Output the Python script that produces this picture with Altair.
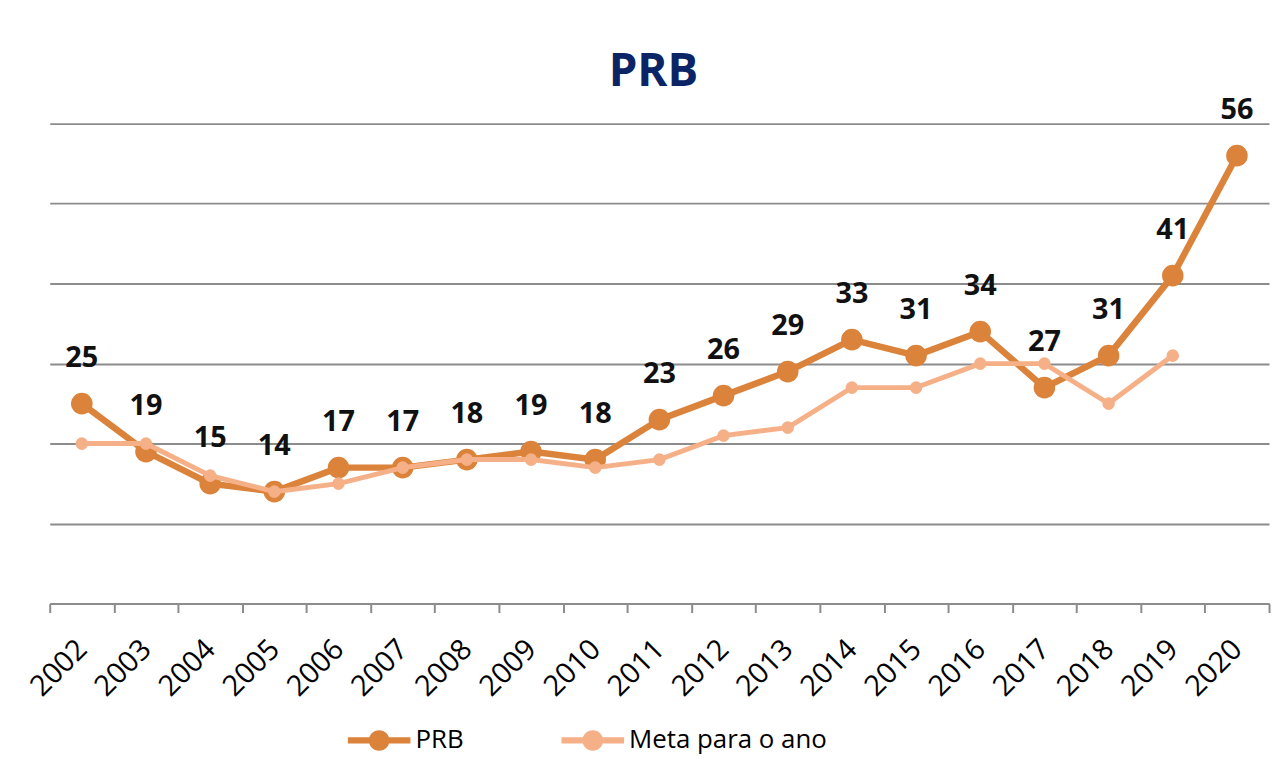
import altair as alt
import pandas as pd

years = [str(y) for y in range(2002, 2021)]
prb = [25, 19, 15, 14, 17, 17, 18, 19, 18, 23, 26, 29, 33, 31, 34, 27, 31, 41, 56]
meta = [20, 20, 16, 14, 15, 17, 18, 18, 17, 18, 21, 22, 27, 27, 30, 30, 25, 31, None]
series = ["PRB", "Meta para o ano"]
colors = ["#DB823B", "#F6B088"]

rows = []
for y, p, m in zip(years, prb, meta):
    rows.append({"year": y, "series": series[0], "value": p})
    if m is not None:
        rows.append({"year": y, "series": series[1], "value": m})
df = pd.DataFrame(rows)

FONT = "Open Sans"
GRID = "#8C8C8C"

legend_path = ("M-1,-0.1L1,-0.1L1,0.1L-1,0.1Z "
               "M-0.33,0A0.33,0.33 0 1,1 0.33,0A0.33,0.33 0 1,1 -0.33,0Z")

x_enc = alt.X("year:O", bandPosition=0.5,
              scale=alt.Scale(type="band", paddingInner=0, paddingOuter=0),
              axis=alt.Axis(title=None, labelAngle=-45, labelAlign="right",
                            labelBaseline="middle", labelPadding=32,
                            labelFont=FONT, labelFontSize=29, labelColor="#000000",
                            ticks=True, tickBand="extent", tickSize=9,
                            tickColor=GRID, tickWidth=2,
                            domainColor=GRID, domainWidth=2, grid=False))
y_enc = alt.Y("value:Q",
              scale=alt.Scale(domain=[0, 60], nice=False, zero=True),
              axis=alt.Axis(title=None, values=[0, 10, 20, 30, 40, 50, 60],
                            labels=False, ticks=False, domain=False,
                            grid=True, gridColor=GRID, gridWidth=2))
color_enc = alt.Color("series:N",
                      scale=alt.Scale(domain=series, range=colors),
                      sort=series,
                      legend=alt.Legend(title=None, orient="none", direction="horizontal",
                                        legendX=300, legendY=589,
                                        symbolType=legend_path, symbolSize=3969,
                                        symbolStrokeWidth=0, symbolOpacity=1,
                                        labelFont=FONT, labelFontSize=26,
                                        labelColor="#000000", labelOffset=5,
                                        labelLimit=500,
                                        columnPadding=98, padding=0))

prb_df = df[df.series == series[0]]
meta_df = df[df.series == series[1]]

prb_line = alt.Chart(prb_df).mark_line(strokeWidth=6.5).encode(x=x_enc, y=y_enc, color=color_enc)
prb_pts = alt.Chart(prb_df).mark_circle(size=470, opacity=1).encode(x=x_enc, y=y_enc, color=color_enc)
meta_line = alt.Chart(meta_df).mark_line(strokeWidth=5).encode(x=x_enc, y=y_enc, color=color_enc)
meta_pts = alt.Chart(meta_df).mark_circle(size=160, opacity=1).encode(x=x_enc, y=y_enc, color=color_enc)
labels = alt.Chart(prb_df).mark_text(font=FONT, fontSize=29, fontWeight="bold",
                                     color="#111111", baseline="alphabetic", dy=-37).encode(
    x=x_enc, y=y_enc, text=alt.Text("value:Q"))

chart = alt.layer(prb_line, prb_pts, meta_line, meta_pts, labels).properties(
    width=1227, height=483,
    background="white",
    title=alt.Title("PRB", font=FONT, fontSize=46, fontWeight="bold",
                    color="#0B2466", anchor="middle", frame="group",
                    offset=0, dx=-6),
    autosize=alt.AutoSizeParams(type="none"),
    padding={"left": 42, "top": 114, "right": 4, "bottom": 150},
).configure_view(stroke=None)

chart.save("out.html", embed_options={"renderer": "svg", "actions": False})
